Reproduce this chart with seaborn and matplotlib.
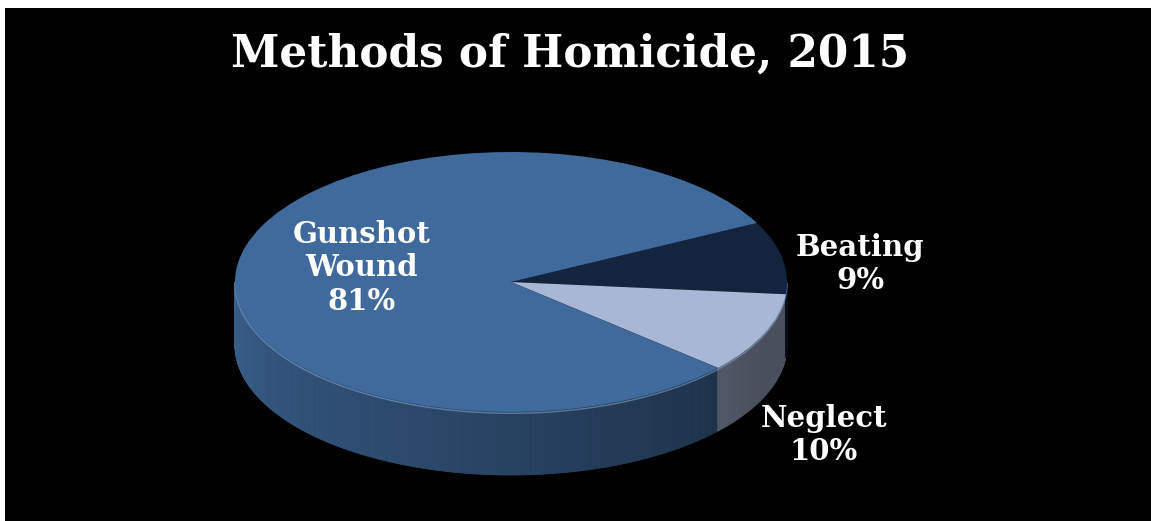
import numpy as np
import seaborn as sns
import matplotlib.pyplot as plt
from matplotlib.collections import PolyCollection
from matplotlib.colors import to_rgb

# chart data
methods = ["Beating", "Neglect", "Gunshot\nWound"]
shares = [9, 10, 81]
slice_colors = ["#13253e", "#a9b7d6", "#406a9c"]
title = "Methods of Homicide, 2015"

sns.set_theme(style="white")
plt.rcParams['font.family'] = ['DejaVu Serif']

W, H = 1151, 521
# ellipse of the top face, in pixels
CX, CY, RX, RY = 511, 282, 276, 130
DEPTH = 63 / RY


def px(x, y):
    # pixel position -> pie data units
    return (x - CX) / RX, (CY - y) / RY


fig = plt.figure(figsize=(W / 100, H / 100), dpi=100)
fig.patch.set_facecolor('white')
ax = fig.add_axes([5 / W, 0, 1 - 5 / W, 1 - 8 / H])

wedges, _ = ax.pie(shares, colors=slice_colors, startangle=27, counterclock=False,
                   radius=1, center=(0, 0), wedgeprops=dict(linewidth=0))
for w in wedges:
    w.set_zorder(3)

ax.set_frame_on(True)
ax.set_facecolor('black')
for s in ax.spines.values():
    s.set_visible(False)
ax.set_aspect('auto')
x0, y0 = px(5, H)
x1, y1 = px(W, 8)
ax.set_xlim(x0, x1)
ax.set_ylim(y0, y1)
ax.set_xticks([])
ax.set_yticks([])


def shade(t):
    # darker towards the right side of the front wall
    return float(np.clip(0.9 - (t - 180) / 150 * 0.45, 0.43, 1))


# side wall of the pie (front half only)
polys, cols = [], []
ts = np.arange(180, 360, 0.5)
for t in ts:
    t2 = t + 0.5
    tm = t + 0.25
    for w in wedges:
        if (tm - w.theta1) % 360 <= (w.theta2 - w.theta1):
            base = np.array(to_rgb(w.get_facecolor()))
            break
    a1, a2 = np.radians(t), np.radians(t2)
    polys.append([(np.cos(a1), np.sin(a1)), (np.cos(a2), np.sin(a2)),
                  (np.cos(a2), np.sin(a2) - DEPTH), (np.cos(a1), np.sin(a1) - DEPTH)])
    cols.append(tuple(base * shade(tm)))
side = PolyCollection(polys, facecolors=cols, edgecolors=cols, linewidths=0.6, zorder=1)
ax.add_collection(side)

# thin highlight on the rim
rim = np.radians(np.linspace(180, 360, 200))
ax.plot(np.cos(rim), np.sin(rim) - 0.01, color='#7fa0c8', lw=1, alpha=0.6, zorder=2)

# labels
label_pos = [(860, 264), (824, 435), (362, 268)]
for name, val, (lx, ly) in zip(methods, shares, label_pos):
    u, v = px(lx, ly)
    ax.text(u, v, f"{name}\n{val}%", color='white', fontsize=21, fontweight='bold',
            ha='center', va='center', linespacing=1.2, zorder=5)

fig.text(570 / W, 1 - 54 / H, title, color='white', fontsize=31.5, fontweight='bold',
         ha='center', va='center')

plt.savefig('out.png', dpi=100, facecolor=fig.get_facecolor())
